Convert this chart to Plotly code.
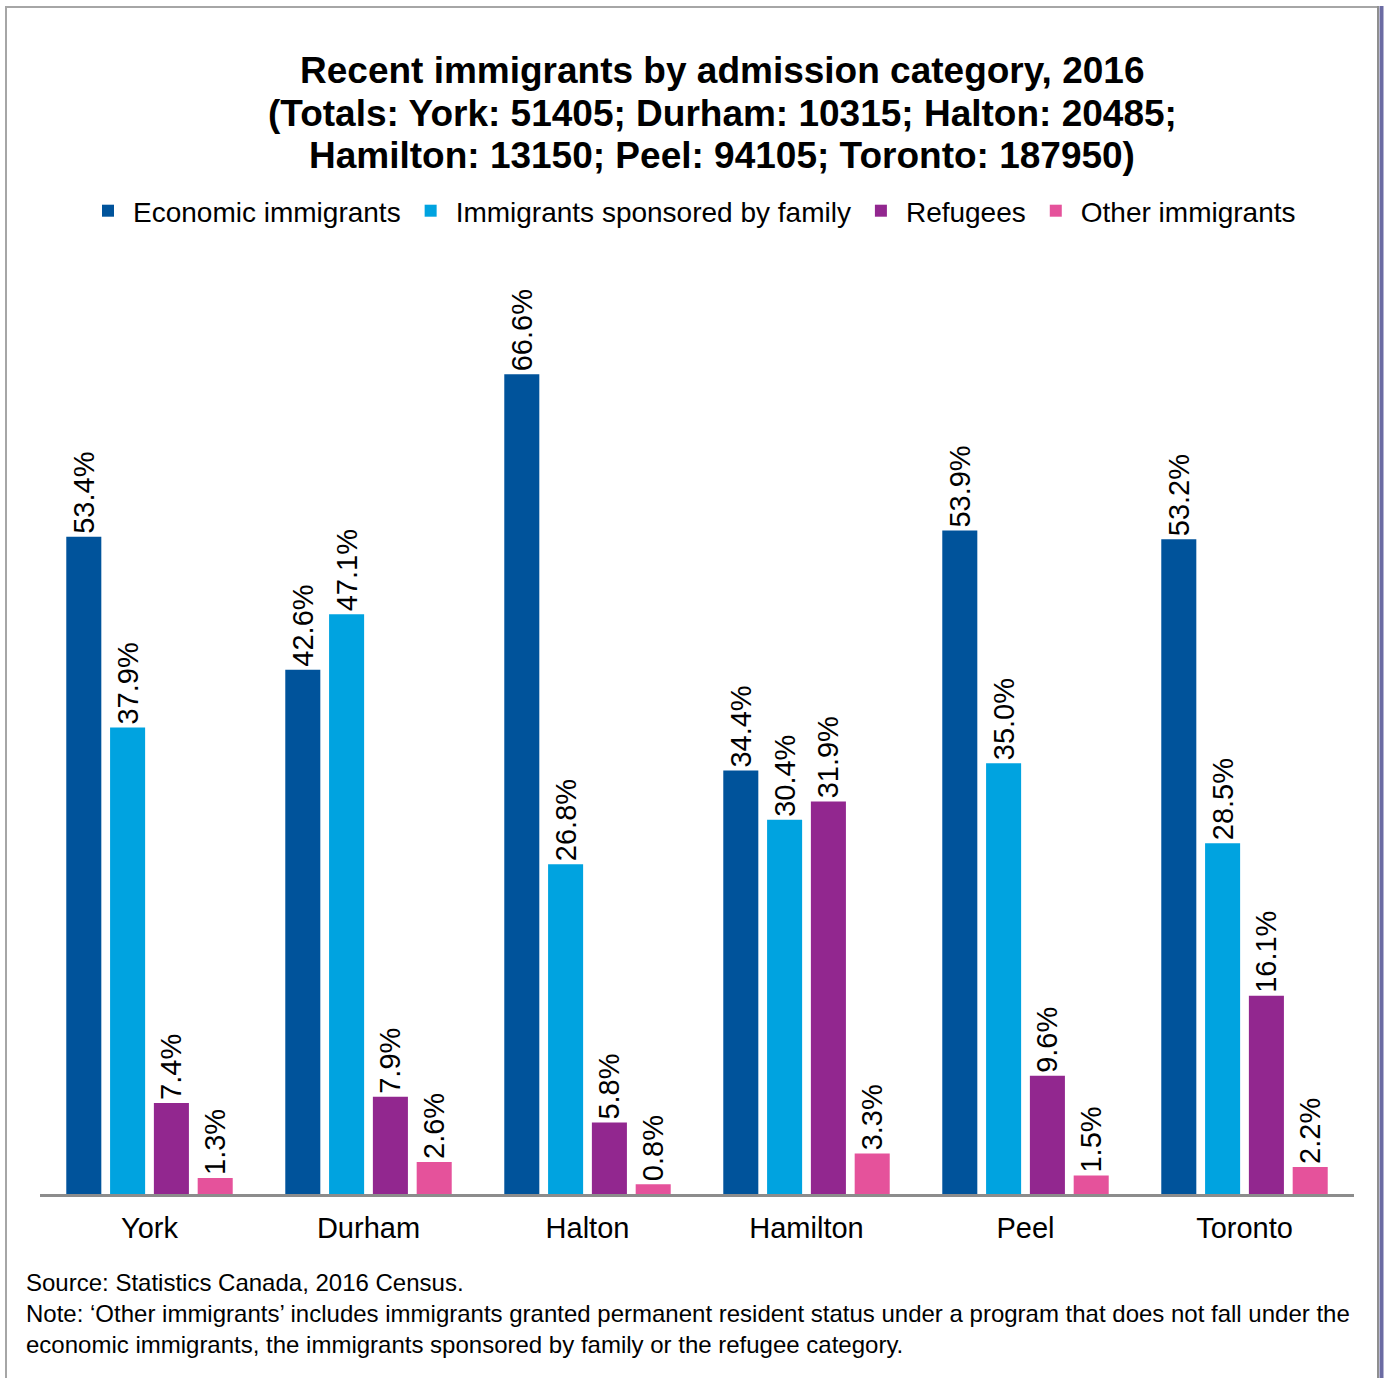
import plotly.graph_objects as go

# Regions and shares (%) of recent immigrants by admission category, 2016
regions = ["York", "Durham", "Halton", "Hamilton", "Peel", "Toronto"]
economic = [53.4, 42.6, 66.6, 34.4, 53.9, 53.2]
family = [37.9, 47.1, 26.8, 30.4, 35.0, 28.5]
refugees = [7.4, 7.9, 5.8, 31.9, 9.6, 16.1]
other = [1.3, 2.6, 0.8, 3.3, 1.5, 2.2]

series_names = ["Economic immigrants", "Immigrants sponsored by family",
                "Refugees", "Other immigrants"]
series_values = [economic, family, refugees, other]
series_colors = ["#00539b", "#00a3e0", "#92278f", "#e5529b"]

title_lines = [
    "Recent immigrants by admission category, 2016",
    "(Totals: York: 51405; Durham: 10315; Halton: 20485;",
    "Hamilton: 13150; Peel: 94105; Toronto: 187950)",
]

W, H = 1390, 1378
L, R, T, B = 40, 36, 250, 184
PW, PH = W - L - R, H - T - B
YMAX = 76.7

FONT = "Liberation Sans, Arial, sans-serif"

fig = go.Figure()
for name, vals, col in zip(series_names, series_values, series_colors):
    fig.add_trace(go.Bar(
        x=regions, y=vals, name=name,
        marker=dict(color=col, line=dict(width=0)),
        text=[f"{v:.1f}%" for v in vals],
        textposition="outside", textangle=-90,
        constraintext="none", cliponaxis=False,
        outsidetextfont=dict(family=FONT, size=29, color="#000000"),
    ))


def px(x):
    return (x - L) / PW


def py(y):
    return (H - B - y) / PH


shapes = [
    # outer frame
    dict(type="line", xref="paper", yref="paper", x0=px(6), x1=px(6), y0=py(6), y1=py(1378),
         line=dict(color="#a6a6a6", width=2)),
    dict(type="line", xref="paper", yref="paper", x0=px(5), x1=px(1379), y0=py(7), y1=py(7),
         line=dict(color="#a6a6a6", width=2)),
    dict(type="line", xref="paper", yref="paper", x0=px(1378), x1=px(1378), y0=py(6), y1=py(1378),
         line=dict(color="#8f8f8f", width=2)),
    dict(type="line", xref="paper", yref="paper", x0=px(1381.5), x1=px(1381.5), y0=py(6), y1=py(1378),
         line=dict(color="#6b6ba3", width=4)),
]

annotations = []
# three-line bold heading
for i, line in enumerate(title_lines):
    annotations.append(dict(
        xref="paper", yref="paper", x=px(722), y=py(70 + 43 * i),
        xanchor="center", yanchor="middle", showarrow=False,
        text=f"<b>{line}</b>",
        font=dict(family=FONT, size=37, color="#000000"),
    ))

annotations.append(dict(
    xref="paper", yref="paper", x=px(25), y=py(1268), xanchor="left", yanchor="top",
    align="left", showarrow=False, borderpad=0,
    text=("Source: Statistics Canada, 2016 Census.<br>"
          "Note: \u2018Other immigrants\u2019 includes immigrants granted permanent resident status "
          "under a program that does not fall under the<br>"
          "economic immigrants, the immigrants sponsored by family or the refugee category."),
    font=dict(family=FONT, size=24, color="#000000"),
))

fig.update_layout(
    width=W, height=H,
    margin=dict(l=L, r=R, t=T, b=B, pad=0),
    paper_bgcolor="#ffffff", plot_bgcolor="#ffffff",
    font=dict(family=FONT, color="#000000"),
    legend=dict(
        orientation="h", x=px(692), xanchor="center", y=py(211), yanchor="middle",
        font=dict(family=FONT, size=28, color="#000000"),
        itemwidth=40, traceorder="normal", bgcolor="rgba(0,0,0,0)",
    ),
    barmode="group", bargap=0.2, bargroupgap=0.2,
    xaxis=dict(showline=True, linecolor="#8c8c8c", linewidth=3, ticks="",
               ticklabelstandoff=6,
               tickfont=dict(family=FONT, size=29, color="#000000"),
               showgrid=False, zeroline=False),
    yaxis=dict(range=[0, YMAX], visible=False, showgrid=False, zeroline=False),
    shapes=shapes, annotations=annotations,
    showlegend=True,
)

fig.write_html("out.html")
